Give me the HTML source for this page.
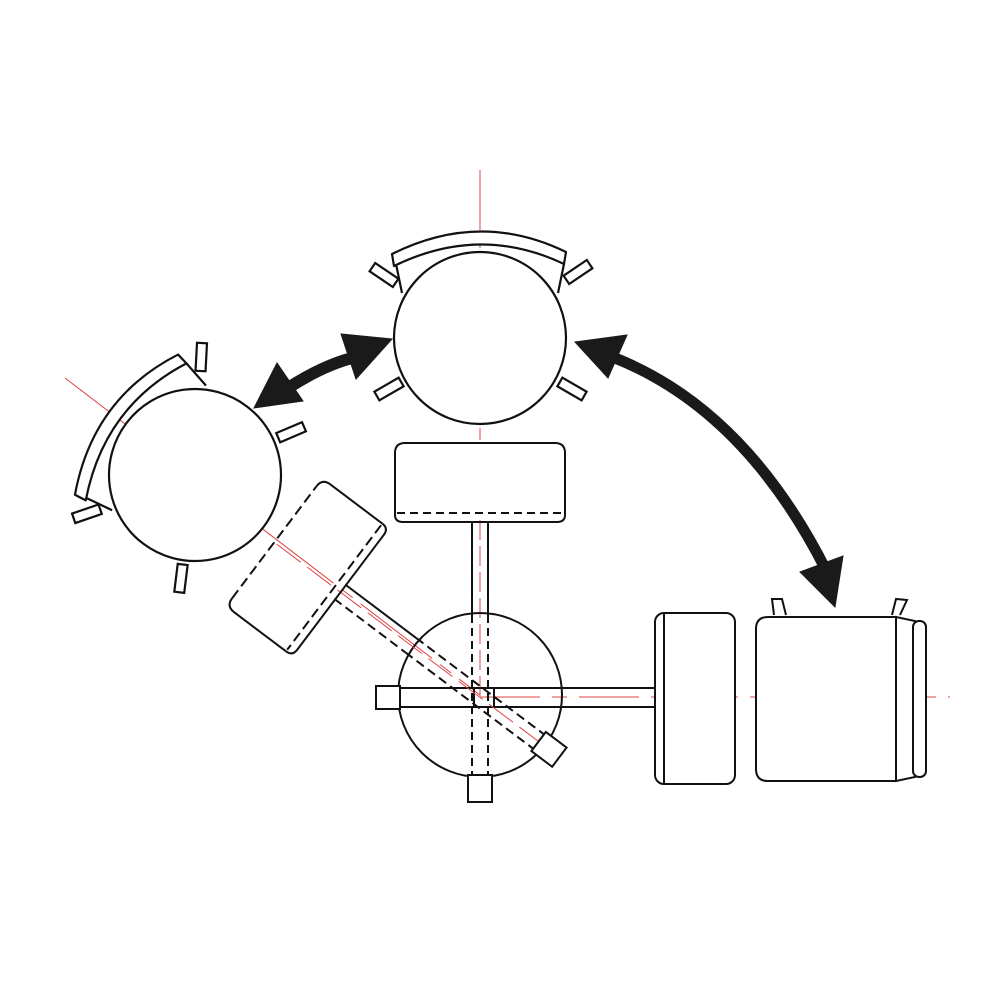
<!DOCTYPE html>
<html><head><meta charset="utf-8"><style>html,body{margin:0;padding:0;background:#fff}svg{display:block}</style></head>
<body>
<svg width="1000" height="1000" viewBox="0 0 1000 1000" xmlns="http://www.w3.org/2000/svg">
<defs>
<g id="seat" fill="#fff" stroke="#111" stroke-width="2.2">
  <path d="M-84,-74 L-78,-45 M84,-74 L78,-45" fill="none"/>
  <path d="M-88,-84 Q0,-128 86,-86 L84,-74 Q0,-114 -86,-72 Z" stroke-linejoin="round"/>
  <circle cx="0" cy="0" r="86"/>
  <rect x="-14" y="-5" width="28" height="10" transform="translate(-96,-63) rotate(34)"/>
  <rect x="-14" y="-5" width="28" height="10" transform="translate(98,-66) rotate(-34)"/>
  <rect x="-14" y="-5" width="28" height="10" transform="translate(-91,51) rotate(-30)"/>
  <rect x="-14" y="-5" width="28" height="10" transform="translate(92,51) rotate(30)"/>
</g>
</defs>
<g stroke="#d44" stroke-width="1" fill="none">
  <line x1="480" y1="170" x2="480" y2="440" stroke-dasharray="60,8,10,8"/>
  <line x1="480" y1="697" x2="950" y2="697" stroke-dasharray="60,12,15,12"/>
  <line x1="65" y1="378" x2="480" y2="695" stroke-dasharray="90,10,14,10"/>
  <line x1="480" y1="520" x2="480" y2="697" stroke-dasharray="20,6"/>
</g>
<use href="#seat" transform="translate(480,338)"/>
<use href="#seat" transform="translate(195,475) rotate(-53)"/>

<circle cx="480" cy="695" r="82" fill="none" stroke="#111" stroke-width="2"/>
<g stroke="#111" stroke-width="2" fill="none">
  <path d="M395,515 V453 Q395,443 405,443 H555 Q565,443 565,453 V515"/>
  <path d="M395,515 Q395,522 403,522 H557 Q565,522 565,515" />
  <line x1="397" y1="513" x2="563" y2="513" stroke-dasharray="8,5"/>
  <line x1="472" y1="522" x2="472" y2="615"/><line x1="488" y1="522" x2="488" y2="615"/>
  <line x1="472" y1="615" x2="472" y2="775" stroke-dasharray="8,5"/><line x1="488" y1="615" x2="488" y2="775" stroke-dasharray="8,5"/>
  <rect x="468" y="775" width="24" height="27" fill="#fff"/>
  <line x1="400" y1="688" x2="655" y2="688"/><line x1="400" y1="707" x2="655" y2="707"/>
  <rect x="376" y="686" width="24" height="23" fill="#fff"/>
  <rect x="474" y="688" width="20" height="19"/>
</g>
<g transform="translate(307,567) rotate(37)" stroke="#111" stroke-width="2" fill="none">
  <line x1="-38" y1="0" x2="300" y2="0" stroke="#d44" stroke-width="1" stroke-dasharray="30,8"/>
  <line x1="41" y1="-9" x2="130" y2="-9"/><line x1="41" y1="9" x2="130" y2="9" stroke-dasharray="9,5"/>
  <line x1="130" y1="-9" x2="290" y2="-9" stroke-dasharray="9,5"/><line x1="130" y1="9" x2="290" y2="9" stroke-dasharray="9,5"/>
  <rect x="290" y="-12" width="26" height="24" fill="#fff"/>
  <path d="M-41,70 V-70" stroke-dasharray="10,5"/>
  <path d="M34,-80 H-31 Q-41,-80 -41,-70 M-41,70 Q-41,80 -31,80 H34"/>
  <path d="M34,-80 Q42,-80 42,-72 V72 Q42,80 34,80"/>
  <line x1="34" y1="-78" x2="34" y2="78" stroke-dasharray="10,5"/>
</g>
<g stroke="#111" stroke-width="2" fill="#fff">
  <rect x="655" y="613" width="80" height="171" rx="9"/>
  <line x1="664" y1="614" x2="664" y2="783"/>
  <path d="M774,615 L772,599 L782,599 L786,615" />
  <path d="M892,615 L896,599 L907,600 L900,615" />
  <path d="M896,617 L915,621 L915,777 L896,781 Z"/>
  <rect x="913" y="621" width="13" height="156" rx="6"/>
  <path d="M896,617 H768 Q756,617 756,629 V769 Q756,781 768,781 H896 Z"/>
</g>
<g fill="#1a1a1a" stroke="#1a1a1a">
  <path d="M288,388 Q322,366 352,358" fill="none" stroke-width="12"/>
  <polygon points="254,408 277,363 303,401"/>
  <polygon points="392,339 341,334 356,379"/>
  <path d="M615,358 Q745,410 826,570" fill="none" stroke-width="11"/>
  <polygon points="575,342 627,335 608,378"/>
  <polygon points="835,607 800,572 843,556"/>
</g>
</svg>
</body></html>
